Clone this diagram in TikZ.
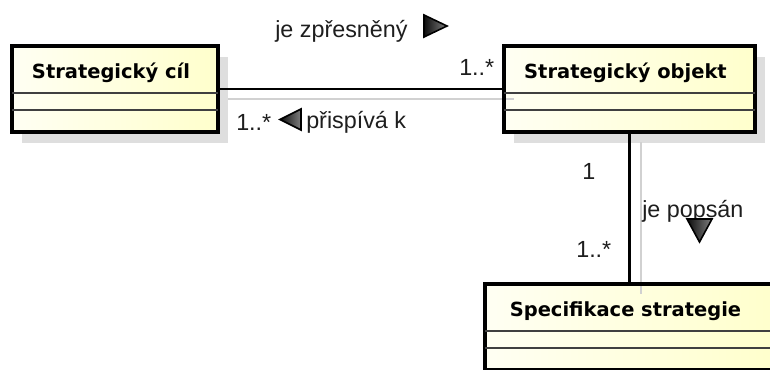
\documentclass[tikz,border=0pt]{standalone}
\usepackage{fontspec}
\setmainfont{Liberation Sans}
\newfontfamily\clsfont{DejaVu Sans}
\usetikzlibrary{shadows}
\definecolor{boxL}{RGB}{255,255,243}
\definecolor{boxR}{RGB}{255,255,204}
\definecolor{shadowc}{RGB}{222,222,222}
\definecolor{lblc}{RGB}{30,30,30}
\tikzset{
 classbox/.style={rectangle, inner sep=0pt, outer sep=0pt, left color=boxL, right color=boxR,
   drop shadow={shadow xshift=7.5pt, shadow yshift=-8pt, fill=shadowc, opacity=1}},
 classborder/.style={draw=black, line width=3pt},
 divider/.style={draw=black!75, line width=1.2pt},
 classname/.style={font={\clsfont\bfseries\fontsize{14.6}{17}\selectfont}, anchor=base, inner sep=0pt},
 lbl/.style={font={\fontsize{17.5}{20}\selectfont}, text=lblc, anchor=base west, inner sep=0pt},
 assoc/.style={draw=black, line width=2pt},
 assocshadow/.style={draw=black!18, line width=1.5pt},
 dirmark/.style={draw=black, line width=1.2pt, line join=miter, left color=black!95, right color=black!50},
}
\begin{document}
\begin{tikzpicture}[x=0.75pt, y=-0.75pt]
\path[use as bounding box] (0,0) rectangle (770,369);
\clip (0,0) rectangle (770,369);
% class boxes (fill + shadow)
\node[classbox, minimum width=154.5pt, minimum height=64.5pt] (c1) at (115,89) {};
\node[classbox, minimum width=188.25pt, minimum height=64.5pt] (c2) at (629.5,89) {};
\node[classbox, minimum width=216.75pt, minimum height=64.5pt] (c3) at (629.5,327) {};
% connector shadows
\draw[assocshadow] ([shift={(10,10)}]c1.east) -- ([shift={(10,10)}]c2.west);
\draw[assocshadow] ([shift={(11,10)}]c2.south) -- ([shift={(11,10)}]c3.north);
% connectors
\draw[assoc] (c1.east) -- (c2.west);
\draw[assoc] (c2.south) -- (c3.north);
% borders and compartments
\foreach \n in {c1,c2,c3} {
  \draw[classborder] (\n.south west) rectangle (\n.north east);
  \draw[divider] ([shift={(0,47)}]\n.north west) -- ([shift={(0,47)}]\n.north east);
  \draw[divider] ([shift={(0,64)}]\n.north west) -- ([shift={(0,64)}]\n.north east);
}
% class names
\node[classname] (n1) at ([shift={(-4,32)}]c1.north) {Strategický cíl};
\node[classname] (n2) at ([shift={(-4,32)}]c2.north) {Strategický objekt};
\node[classname] (n3) at ([shift={(-4,32)}]c3.north) {Specifikace strategie};
% labels
\node[lbl] (l1) at (275,37) {je zpřesněný};
\draw[dirmark] (424,15) -- (447,26) -- (424,37) -- cycle;
\node[lbl] (m1) at (459,75) {1..*};
\node[lbl] (m2) at (236,130) {1..*};
\draw[dirmark] (301,109) -- (280,119.5) -- (301,130) -- cycle;
\node[lbl] (l2) at (306,128) {přispívá k};
\node[lbl] (m3) at (582,179) {1};
\node[lbl] (l3) at (642,217) {je popsán};
\draw[dirmark] (687,219) -- (712,219) -- (699.5,242) -- cycle;
\node[lbl] (m4) at (576,257) {1..*};
\end{tikzpicture}
\end{document}
